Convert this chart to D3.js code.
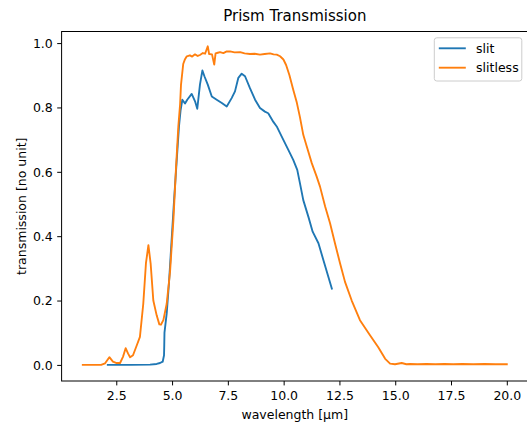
<!DOCTYPE html>
<html>
<head>
<meta charset="utf-8">
<script src="https://cdn.jsdelivr.net/npm/d3@7"></script>
<style>
  html, body { margin: 0; padding: 0; background: #fff; }
  svg { display: block; font-family: "DejaVu Sans", sans-serif; }
</style>
</head>
<body>
<svg id="chart" width="527" height="423"></svg>
<script>
// ---- Data ----
const slitlessWavelength = [1.0, 1.82, 2.0, 2.19, 2.35, 2.49, 2.67, 2.8, 2.92, 3.03, 3.12, 3.25, 3.42, 3.56, 3.71, 3.83, 3.94, 4.04, 4.16, 4.31, 4.43, 4.5, 4.61, 4.76, 4.91, 5.06, 5.18, 5.28, 5.36, 5.4, 5.5, 5.58, 5.66, 5.8, 5.9, 6.03, 6.15, 6.25, 6.38, 6.48, 6.6, 6.66, 6.79, 6.89, 6.95, 7.05, 7.15, 7.3, 7.45, 7.6, 7.8, 8.05, 8.25, 8.49, 8.7, 8.94, 9.15, 9.39, 9.55, 9.69, 9.84, 9.99, 10.11, 10.26, 10.43, 10.59, 10.73, 10.88, 11.04, 11.26, 11.48, 11.63, 11.86, 12.08, 12.3, 12.53, 12.75, 13.05, 13.42, 13.87, 14.24, 14.55, 14.77, 14.99, 15.29, 15.5, 15.67, 16.0, 16.4, 16.8, 17.2, 17.6, 18.0, 18.5, 19.0, 19.5, 20.0];
const slitlessValue = [0.0, 0.0, 0.005, 0.024, 0.01, 0.006, 0.006, 0.025, 0.052, 0.035, 0.024, 0.03, 0.061, 0.087, 0.19, 0.316, 0.372, 0.315, 0.2, 0.154, 0.126, 0.125, 0.139, 0.19, 0.29, 0.45, 0.616, 0.74, 0.81, 0.87, 0.935, 0.95, 0.959, 0.962, 0.958, 0.965, 0.96, 0.963, 0.969, 0.967, 0.99, 0.966, 0.965, 0.933, 0.968, 0.97, 0.972, 0.969, 0.974, 0.974, 0.971, 0.972, 0.968, 0.966, 0.967, 0.964, 0.966, 0.968, 0.965, 0.964, 0.959, 0.949, 0.932, 0.9, 0.855, 0.815, 0.77, 0.715, 0.678, 0.627, 0.585, 0.554, 0.492, 0.44, 0.378, 0.315, 0.258, 0.2, 0.139, 0.092, 0.055, 0.019, 0.004, 0.002, 0.006, 0.002, 0.003, 0.002, 0.003, 0.002, 0.003, 0.002, 0.003, 0.002, 0.003, 0.002, 0.002];

const slitWavelength = [2.12, 3.12, 4.01, 4.31, 4.46, 4.58, 4.64, 4.65, 4.66, 4.76, 4.86, 4.98, 5.09, 5.21, 5.31, 5.38, 5.46, 5.58, 5.68, 5.88, 6.03, 6.13, 6.25, 6.36, 6.45, 6.6, 6.78, 7.0, 7.23, 7.45, 7.67, 7.82, 7.97, 8.12, 8.27, 8.49, 8.72, 8.94, 9.16, 9.31, 9.54, 9.69, 9.91, 10.21, 10.43, 10.61, 10.73, 10.88, 11.11, 11.3, 11.56, 11.78, 12.16];
const slitValue = [0.0, 0.0, 0.001, 0.003, 0.006, 0.01, 0.03, 0.06, 0.1, 0.16, 0.253, 0.388, 0.512, 0.637, 0.741, 0.79, 0.824, 0.812, 0.824, 0.842, 0.819, 0.796, 0.871, 0.915, 0.897, 0.871, 0.834, 0.824, 0.814, 0.803, 0.829, 0.85, 0.892, 0.905, 0.897, 0.86, 0.824, 0.798, 0.787, 0.782, 0.755, 0.741, 0.71, 0.668, 0.637, 0.606, 0.565, 0.512, 0.46, 0.414, 0.378, 0.326, 0.237];

const xTicks = [2.5, 5.0, 7.5, 10.0, 12.5, 15.0, 17.5, 20.0];
const yTicks = [0.0, 0.2, 0.4, 0.6, 0.8, 1.0];
const seriesNames = ["slit", "slitless"];
const seriesColors = ["#1f77b4", "#ff7f0e"];
const titleText = "Prism Transmission";
const xLabelText = "wavelength [\u03bcm]";
const yLabelText = "transmission [no unit]";

// ---- Layout ----
const svg = d3.select("#chart");
const axLeft = 61.6, axRight = 528.0, axTop = 31.5, axBottom = 381.0;

const x = d3.scaleLinear().domain([0.05, 20.95]).range([axLeft, axRight]);
const y = d3.scaleLinear().domain([-0.05, 1.036]).range([axBottom, axTop]);

svg.append("defs").append("clipPath").attr("id", "clip")
  .append("rect").attr("x", axLeft).attr("y", axTop)
  .attr("width", axRight - axLeft).attr("height", axBottom - axTop);

const series = [
  { name: seriesNames[0], color: seriesColors[0], pts: slitWavelength.map((w, i) => [w, slitValue[i]]) },
  { name: seriesNames[1], color: seriesColors[1], pts: slitlessWavelength.map((w, i) => [w, slitlessValue[i]]) }
];

const line = d3.line().x(d => x(d[0])).y(d => y(d[1]));
const plot = svg.append("g").attr("clip-path", "url(#clip)");
series.forEach(s => {
  plot.append("path").datum(s.pts)
    .attr("d", line)
    .attr("fill", "none")
    .attr("stroke", s.color)
    .attr("stroke-width", 1.875)
    .attr("stroke-linejoin", "round")
    .attr("stroke-linecap", "square");
});

// ---- Axes ----
const xAxis = d3.axisBottom(x).tickValues(xTicks).tickFormat(d3.format(".1f")).tickSizeOuter(0).tickSize(4.4).tickPadding(4.4);
const yAxis = d3.axisLeft(y).tickValues(yTicks).tickFormat(d3.format(".1f")).tickSizeOuter(0).tickSize(4.4).tickPadding(4.4);

const gx = svg.append("g").attr("transform", `translate(0,${axBottom})`).call(xAxis);
const gy = svg.append("g").attr("transform", `translate(${axLeft},0)`).call(yAxis);
[gx, gy].forEach(g => {
  g.select(".domain").remove();
  g.selectAll(".tick line").attr("stroke", "#000").attr("stroke-width", 1);
  g.selectAll(".tick text").attr("fill", "#000").attr("font-size", "12.5px")
    .attr("font-family", "DejaVu Sans, sans-serif");
});
gx.selectAll(".tick text").attr("dy", "0.78em");
gy.selectAll(".tick text").attr("dy", "0.34em");

// spines
svg.append("rect")
  .attr("x", axLeft).attr("y", axTop)
  .attr("width", axRight - axLeft).attr("height", axBottom - axTop)
  .attr("fill", "none").attr("stroke", "#000").attr("stroke-width", 1);

// ---- Text ----
svg.append("text").attr("x", (axLeft + axRight) / 2).attr("y", 21)
  .attr("text-anchor", "middle").attr("font-size", "15px").attr("fill", "#000")
  .text(titleText);

svg.append("text").attr("x", (axLeft + axRight) / 2).attr("y", 418.5)
  .attr("text-anchor", "middle").attr("font-size", "12.5px").attr("fill", "#000")
  .text(xLabelText);

svg.append("text")
  .attr("transform", `translate(25.5,${(axTop + axBottom) / 2}) rotate(-90)`)
  .attr("text-anchor", "middle").attr("font-size", "12.5px").attr("fill", "#000")
  .text(yLabelText);

// ---- Legend ----
const lg = svg.append("g");
const lgX = 434.3, lgY = 37.8, lgW = 87.5, lgH = 43.2;
lg.append("rect").attr("x", lgX).attr("y", lgY).attr("width", lgW).attr("height", lgH)
  .attr("rx", 2.5).attr("ry", 2.5)
  .attr("fill", "#fff").attr("fill-opacity", 0.8)
  .attr("stroke", "#cccccc").attr("stroke-width", 1);
series.forEach((s, i) => {
  const cy = 48.3 + i * 19.4;
  lg.append("line").attr("x1", lgX + 4.5).attr("x2", lgX + 31.5)
    .attr("y1", cy).attr("y2", cy)
    .attr("stroke", s.color).attr("stroke-width", 1.875);
  lg.append("text").attr("x", lgX + 41.8).attr("y", cy + 4.5)
    .attr("font-size", "12.5px").attr("fill", "#000").text(s.name);
});
</script>
</body>
</html>
